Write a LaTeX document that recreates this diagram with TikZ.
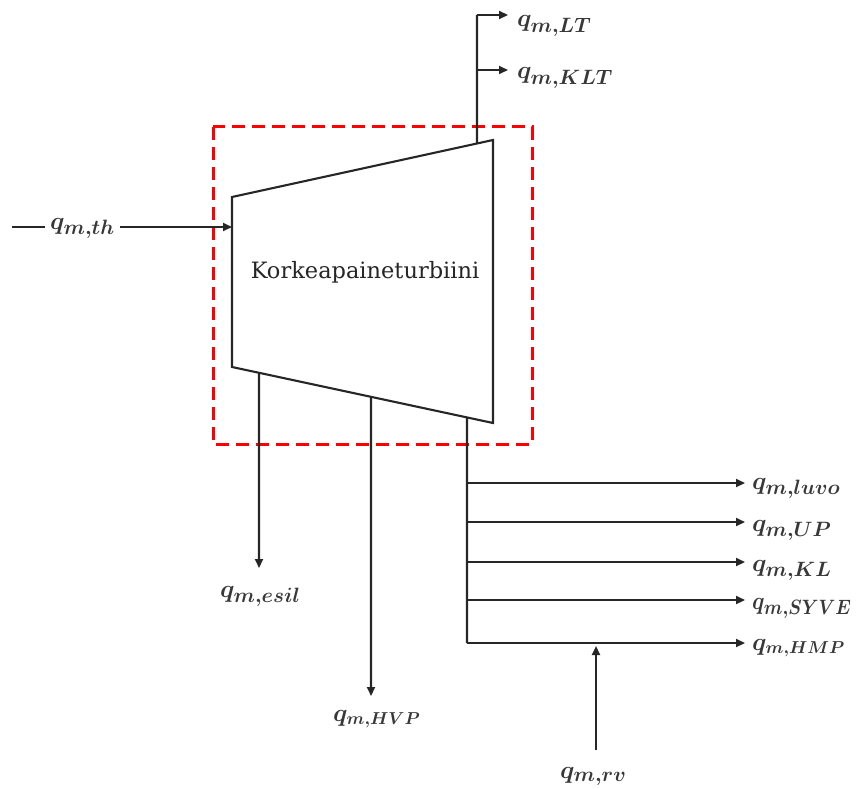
\documentclass[tikz,border=0pt]{standalone}
\usepackage{fontspec}
\usepackage{graphicx}
\usetikzlibrary{arrows.meta,calc}
\newfontfamily\turbinefont{DejaVu Serif}
% flow label: heavy math italic
\newcommand\flowlbl[1]{\mbox{\boldmath$#1$}}
\begin{document}
\begin{tikzpicture}[x=1pt,y=-1pt,
  flow/.style={line width=2.1pt, draw=black!85},
  arr/.style={flow, -{Triangle[length=9pt,width=8pt]}},
  qlab/.style={inner sep=0pt, text=black!78, font=\fontsize{28}{31}\selectfont},
  qsmall/.style={inner sep=0pt, text=black!78, font=\fontsize{25}{28}\selectfont},
  boundary/.style={draw=red, line width=3pt, dash pattern=on 13pt off 7pt}]
\useasboundingbox (0,0) rectangle (856,789);

% control volume
\draw[boundary] (213,127) rectangle (532,444);

% turbine body
\coordinate (TL) at (232,197);
\coordinate (TR) at (493,140);
\coordinate (BR) at (493,423);
\coordinate (BL) at (232,367);
\draw[flow, line join=miter] (TL) -- (TR) -- (BR) -- (BL) -- cycle;
\node[font=\turbinefont\fontsize{22.5}{25}\selectfont, text=black!85] (name) at (365,272) {Korkeapaineturbiini};

% taps on the casing
\coordinate (tapTop) at ($(TL)!0.9387!(TR)$);
\coordinate (tapEsil) at ($(BL)!0.1034!(BR)$);
\coordinate (tapHVP) at ($(BL)!0.5326!(BR)$);
\coordinate (tapOut) at ($(BL)!0.9004!(BR)$);
\coordinate (inlet) at (232,227);

% inlet
\coordinate (src) at (12,227);
\node[qlab, anchor=base west] (lTH) at (50,229) {\flowlbl{q_{m,th}}};
\draw[flow] (src) -- ($(src -| lTH.west)+(-5,0)$);
\draw[arr] ($(inlet -| lTH.east)+(5,0)$) -- (inlet);

% top extractions
\coordinate (jLT) at (477,15);
\coordinate (jKLT) at (477,70);
\node[qlab, anchor=base west] (lLT) at (517,27) {\flowlbl{q_{m,LT}}};
\node[qlab, anchor=base west] (lKLT) at (517,79) {\flowlbl{q_{m,KLT}}};
\draw[flow] (tapTop) -- (jLT);
\draw[arr] (jLT) -- ($(jLT -| lLT.west)+(-9,0)$);
\draw[arr] (jKLT) -- ($(jKLT -| lKLT.west)+(-9,0)$);

% leakage and HVP extraction
\node[qlab, anchor=base west] (lEsil) at (220,597) {\flowlbl{q_{m,esil}}};
\node[qsmall, anchor=base west] (lHVP) at (333,721) {\flowlbl{q_{m,HVP}}};
\coordinate (eEsil) at (259,568);
\coordinate (eHVP) at (371,696);
\draw[arr] (tapEsil) -- (eEsil);
\draw[arr] (tapHVP) -- (eHVP);

% outlet header
\coordinate (h1) at (467,483);
\coordinate (h2) at (467,522);
\coordinate (h3) at (467,562);
\coordinate (h4) at (467,600);
\coordinate (h5) at (467,643);
\node[qlab, anchor=base west] (lLuvo) at (752,489) {\flowlbl{q_{m,luvo}}};
\node[qlab, anchor=base west] (lUP) at (752,531) {\flowlbl{q_{m,UP}}};
\node[qlab, anchor=base west] (lKL) at (752,571) {\flowlbl{q_{m,KL}}};
\node[qlab, anchor=base west] (lSYVE) at (752,609) {\scalebox{0.87}[1]{\flowlbl{q_{m,SYVE}}}};
\node[qsmall, anchor=base west] (lHMP) at (752,650) {\flowlbl{q_{m,HMP}}};
\draw[flow] (tapOut) -- (h5);
\draw[arr] (h1) -- ($(h1 -| lLuvo.west)+(-7,0)$);
\draw[arr] (h2) -- ($(h2 -| lUP.west)+(-7,0)$);
\draw[arr] (h3) -- ($(h3 -| lKL.west)+(-7,0)$);
\draw[arr] (h4) -- ($(h4 -| lSYVE.west)+(-7,0)$);
\draw[arr] (h5) -- ($(h5 -| lHMP.west)+(-7,0)$);

% return flow
\node[qlab, anchor=base west] (lRV) at (560,778) {\flowlbl{q_{m,rv}}};
\coordinate (rvStart) at (596,750);
\coordinate (rvEnd) at (596,646);
\draw[arr] (rvStart) -- (rvEnd);
\end{tikzpicture}
\end{document}
